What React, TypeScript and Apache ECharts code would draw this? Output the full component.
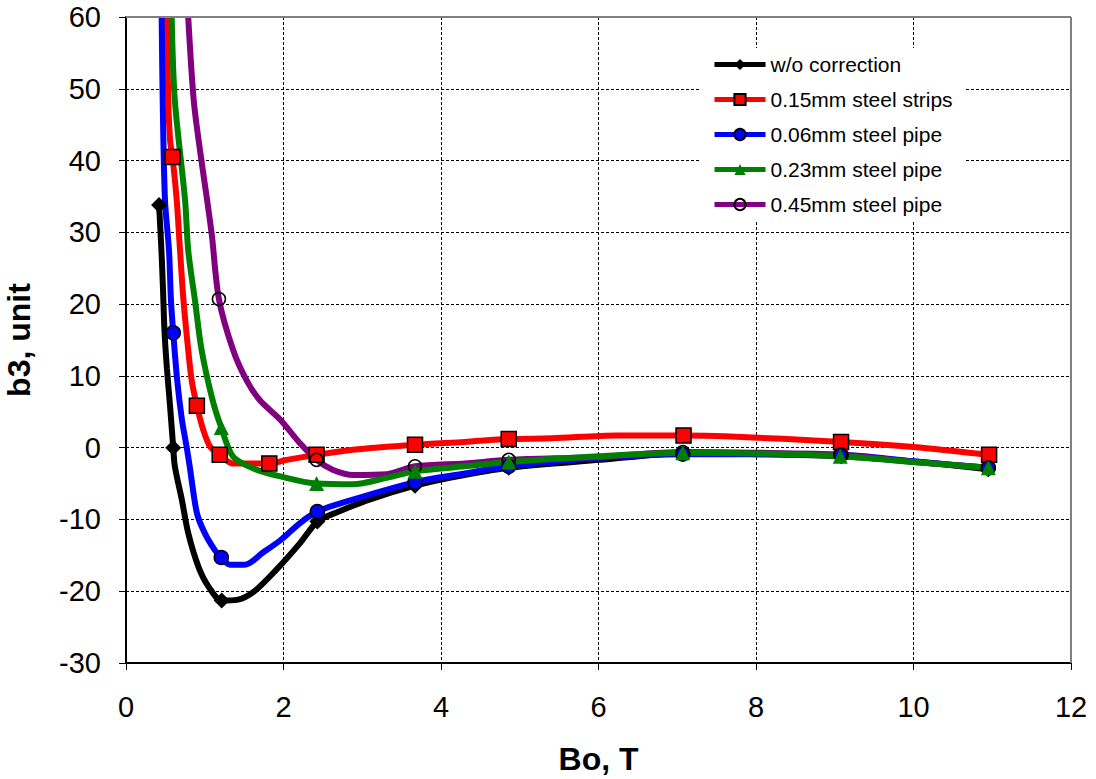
import React, { useEffect, useRef } from "react";
import * as echarts from "echarts";

// Series names (legend order)
const seriesNames = [
  "w/o correction",
  "0.15mm steel strips",
  "0.06mm steel pipe",
  "0.23mm steel pipe",
  "0.45mm steel pipe",
];

// ---- w/o correction ----
const blackMarks: [number, number][] = [
  [0.42, 33.8], [0.6, 0], [1.215, -21.3], [2.43, -10.3], [3.67, -5.3],
  [4.86, -2.8], [7.07, -0.8], [9.08, -1.2], [10.95, -3.0],
];
const blackCurve: [number, number][] = [
  [0.45, 27.5], [0.47, 22], [0.49, 16], [0.52, 11], [0.56, 5.7],
  [0.62, -2.6], [0.71, -7.3], [0.79, -11.9], [0.92, -16.6], [1.05, -19.4],
  [1.41, -21.2], [1.62, -20.1], [1.91, -17.0], [2.21, -13.3],
  [2.68, -9.0], [3.1, -7.2], [4.11, -4.2], [6.02, -1.7], [8.05, -0.9], [10.08, -2.0],
];

// ---- 0.15mm steel strips ----
const redMarks: [number, number][] = [
  [0.59, 40.5], [0.9, 5.85], [1.19, -1.0], [1.82, -2.2], [2.42, -1.0],
  [3.67, 0.4], [4.86, 1.2], [7.08, 1.7], [9.08, 0.8], [10.96, -1.0],
];
const redCurve: [number, number][] = [
  [0.517, 60], [0.537, 48.4], [0.56, 42.8], [0.644, 34.5], [0.686, 27.5],
  [0.73, 20.5], [0.79, 13.6], [0.834, 9.4], [0.98, 2.5], [1.07, 0.1],
  [1.36, -2.2], [2.04, -1.7], [2.88, -0.3], [4.3, 0.8], [5.4, 1.3],
  [6.23, 1.7], [7.6, 1.6], [10.0, 0.1],
];

// ---- 0.06mm steel pipe ----
const blueMarks: [number, number][] = [
  [0.6, 16.0], [1.21, -15.3], [2.43, -8.9], [3.67, -4.8], [4.86, -2.6],
  [7.07, -0.9], [9.08, -1.0], [10.95, -2.8],
];
const blueCurve: [number, number][] = [
  [0.453, 60], [0.466, 48.4], [0.495, 34.5], [0.546, 27.5], [0.571, 20.5],
  [0.65, 9.4], [0.71, 3.9], [0.77, 0.1], [0.81, -2.7], [0.9, -9.1],
  [1.0, -11.9], [1.13, -14.3], [1.32, -16.3], [1.51, -16.3], [1.74, -14.6],
  [1.96, -12.9], [2.21, -10.5], [2.68, -7.9], [4.3, -3.6], [6.02, -1.4],
  [8.0, -0.9], [10.0, -1.9],
];

// ---- 0.23mm steel pipe ----
const greenMarks: [number, number][] = [
  [1.21, 2.8], [2.42, -5.0], [3.67, -3.3], [4.86, -2.0], [7.07, -0.7],
  [9.07, -1.2], [10.95, -2.8],
];
const greenCurve: [number, number][] = [
  [0.58, 60], [0.62, 48.4], [0.75, 34.5], [0.79, 27.5], [0.876, 20.5],
  [0.96, 13.6], [1.1, 6.6], [1.36, -1.25], [1.62, -2.9], [1.96, -4.0],
  [2.88, -5.1], [3.31, -4.2], [4.3, -2.6], [6.0, -1.2], [8.0, -0.8], [10.0, -2.0],
];

// ---- 0.45mm steel pipe ----
const purpleMarks: [number, number][] = [
  [1.18, 20.7], [2.42, -1.7], [3.67, -2.6], [4.86, -1.7], [7.07, -0.6],
  [9.07, -1.0], [10.95, -2.8],
];
const purpleCurve: [number, number][] = [
  [0.79, 60], [0.86, 48.4], [0.94, 41.4], [1.03, 34.5], [1.09, 29.6],
  [1.36, 13.6], [1.53, 9.4], [1.7, 6.6], [1.96, 3.9], [2.21, 0.6],
  [2.63, -3.1], [2.89, -3.8], [3.31, -3.7], [4.3, -2.2], [6.0, -1.3],
  [8.0, -0.7], [10.0, -2.0],
];

const FONT = 'Arial, "Liberation Sans", sans-serif';

function merge(curve: [number, number][], marks: [number, number][]) {
  const all = [
    ...curve.map((p) => ({ value: p, m: false })),
    ...marks.map((p) => ({ value: p, m: true })),
  ];
  all.sort((a, b) => a.value[0] - b.value[0]);
  return all.map((d) => (d.m ? { value: d.value } : { value: d.value, symbol: "none" }));
}

export default function App() {
  const ref = useRef<HTMLDivElement>(null);
  useEffect(() => {
    document.body.style.margin = "0";
    const chart = echarts.init(ref.current!, null, { renderer: "svg" });
    const mk = (
      name: string,
      color: string,
      curve: [number, number][],
      marks: [number, number][],
      symbol: string,
      symbolSize: number | number[],
      itemStyle: any
    ) => ({
      name,
      type: "line",
      smooth: 0.3,
      showSymbol: true,
      symbol,
      symbolSize,
      lineStyle: { color, width: 6 },
      itemStyle,
      data: merge(curve, marks),
      emphasis: { disabled: true },
    });
    chart.setOption({
      animation: false,
      grid: {
        left: 126,
        right: 25,
        top: 17,
        bottom: 116,
        containLabel: false,
        outerBoundsMode: "none",
      },
      legend: {
        orient: "vertical",
        left: 700,
        top: 48,
        backgroundColor: "#fff",
        padding: [6, 12, 6, 12],
        itemWidth: 51,
        itemHeight: 14,
        itemGap: 14,
        lineStyle: { width: 5 },
        textStyle: { fontFamily: FONT, fontSize: 21, color: "#000" },
        data: seriesNames,
      },
      xAxis: {
        type: "value",
        min: 0,
        max: 12,
        interval: 2,
        name: "Bo, T",
        nameLocation: "middle",
        nameGap: 80,
        nameTextStyle: { fontFamily: FONT, fontSize: 32, fontWeight: "bold", color: "#000" },
        axisLine: { onZero: false, lineStyle: { color: "#000", width: 2 } },
        axisTick: { length: 7, lineStyle: { color: "#000", width: 1 } },
        axisLabel: { fontFamily: FONT, fontSize: 29, color: "#000", margin: 29 },
        splitLine: { show: true, lineStyle: { color: "#000", width: 1, type: [3, 2] } },
      },
      yAxis: {
        type: "value",
        min: -30,
        max: 60,
        interval: 10,
        name: "b3, unit",
        nameLocation: "middle",
        nameGap: 91,
        nameTextStyle: { fontFamily: FONT, fontSize: 32, fontWeight: "bold", color: "#000" },
        axisLine: { lineStyle: { color: "#000", width: 2 } },
        axisTick: { length: 7, lineStyle: { color: "#000", width: 1 } },
        axisLabel: { fontFamily: FONT, fontSize: 29, color: "#000", margin: 25 },
        splitLine: { show: true, lineStyle: { color: "#000", width: 1, type: [3, 2] } },
      },
      graphic: [
        { type: "line", z: 100, shape: { x1: 126, y1: 17, x2: 1071, y2: 17 }, style: { stroke: "#808080", lineWidth: 2 } },
        { type: "line", z: 100, shape: { x1: 1071, y1: 17, x2: 1071, y2: 663 }, style: { stroke: "#808080", lineWidth: 2 } },
      ],
      series: [
        mk(seriesNames[0], "#000000", blackCurve, blackMarks, "diamond", [16, 16], { color: "#000000" }),
        mk(seriesNames[1], "#FF0000", redCurve, redMarks, "rect", 15, { color: "#FF0000", borderColor: "#000", borderWidth: 1.5 }),
        mk(seriesNames[2], "#0000FF", blueCurve, blueMarks, "circle", 14, { color: "#0000FF", borderColor: "#000", borderWidth: 1.5 }),
        mk(seriesNames[4], "#800080", purpleCurve, purpleMarks, "circle", 13, { color: "rgba(255,255,255,0)", borderColor: "#000", borderWidth: 1.5 }),
        mk(seriesNames[3], "#008000", greenCurve, greenMarks, "triangle", 15, { color: "#008000" }),
      ],
    });
    return () => chart.dispose();
  }, []);
  return <div ref={ref} style={{ width: 1096, height: 779 }} />;
}
